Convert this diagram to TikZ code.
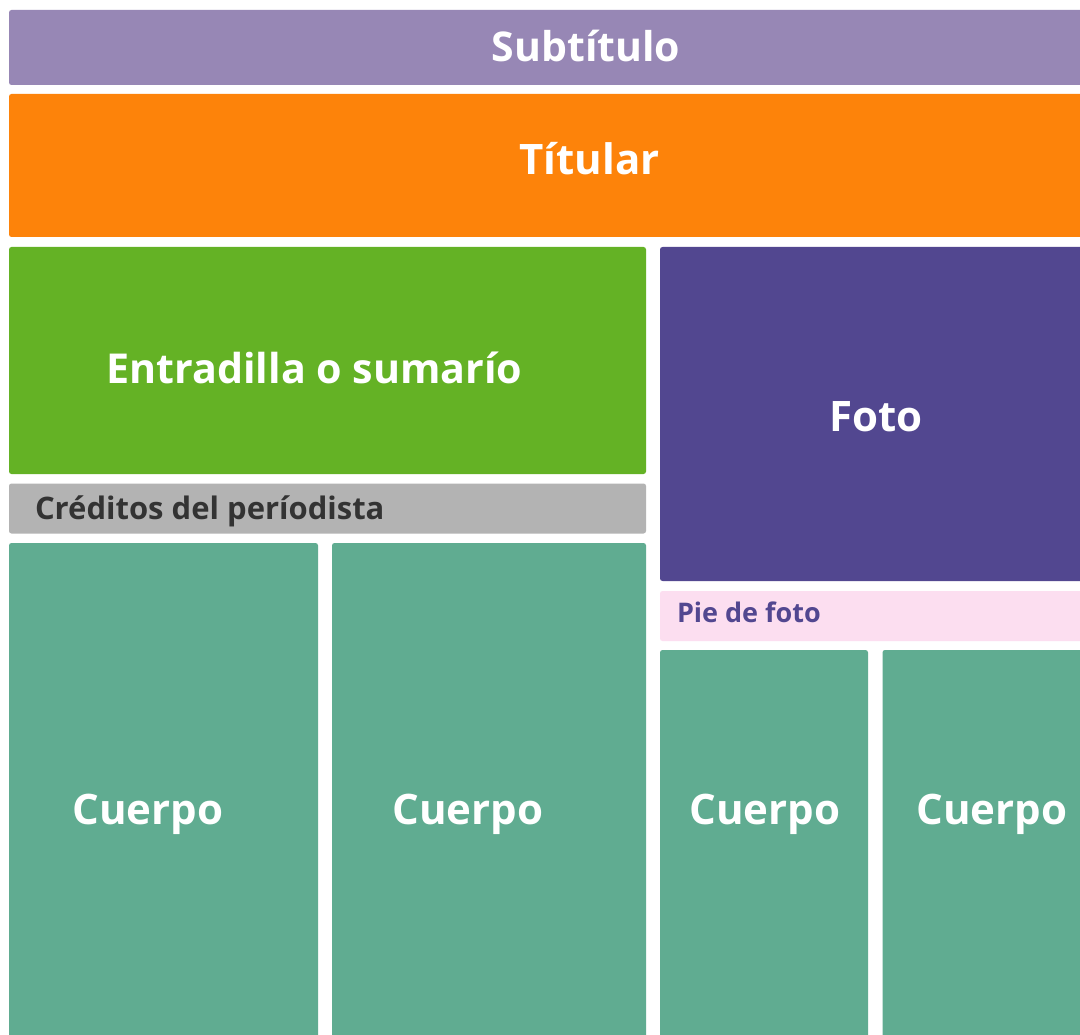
\documentclass[tikz,border=0pt]{standalone}
\usepackage{fontspec}
\setmainfont{Open Sans}
\definecolor{csub}{HTML}{9787B5}
\definecolor{ctit}{HTML}{FD830A}
\definecolor{cent}{HTML}{64B225}
\definecolor{cfoto}{HTML}{524790}
\definecolor{ccred}{HTML}{B3B3B3}
\definecolor{cpie}{HTML}{FCDEF0}
\definecolor{ccue}{HTML}{60AC91}
\definecolor{ctxt}{HTML}{333333}
\tikzset{
  panel/.style={inner sep=0pt, outer sep=0pt, rounded corners=2.5pt, anchor=north west},
  lbl/.style={inner sep=0pt, outer sep=0pt, font=\bfseries, text=white, anchor=base},
  big/.style={font=\fontsize{42}{42}\selectfont\bfseries},
}
\begin{document}
\begin{tikzpicture}[x=1pt,y=-1pt]
\useasboundingbox[fill=white] (0,0) rectangle (1080,1035);
% panels
\node[panel, fill=csub, minimum width=1080pt, minimum height=75pt] (sub) at (9,10) {};
\node[panel, fill=ctit, minimum width=1080pt, minimum height=143pt] (tit) at (9,94) {};
\node[panel, fill=cent, minimum width=637pt, minimum height=227pt] (ent) at (9,247) {};
\node[panel, fill=cfoto, minimum width=430pt, minimum height=334pt] (foto) at (660,247) {};
\node[panel, fill=ccred, minimum width=637pt, minimum height=50pt] (cred) at (9,483.5) {};
\node[panel, fill=cpie, minimum width=430pt, minimum height=50pt] (pie) at (660,591) {};
\node[panel, fill=ccue, minimum width=309pt, minimum height=500pt] (c1) at (9,543) {};
\node[panel, fill=ccue, minimum width=314pt, minimum height=500pt] (c2) at (332,543) {};
\node[panel, fill=ccue, minimum width=208pt, minimum height=400pt] (c3) at (660,650) {};
\node[panel, fill=ccue, minimum width=210pt, minimum height=400pt] (c4) at (882.5,650) {};
% labels
\node[lbl, font=\fontsize{41}{41}\selectfont\bfseries] (tsub) at (586,61.5) {Subtítulo};
\node[lbl, big] (ttit) at (589.5,175) {Títular};
\node[lbl, font=\fontsize{41.2}{41.2}\selectfont\bfseries] (tent) at (314.5,383) {Entradilla o sumarío};
\node[lbl, big] (tfoto) at (876,431) {Foto};
\node[lbl, font=\fontsize{31}{31}\selectfont\bfseries, text=ctxt, anchor=base west] (tcred) at (35,519) {Créditos del períodista};
\node[lbl, font=\fontsize{27}{27}\selectfont\bfseries, text=cfoto, anchor=base west] (tpie) at (677,622.5) {Pie de foto};
\node[lbl, big] (tc1) at (148,824) {Cuerpo};
\node[lbl, big] (tc2) at (468,824) {Cuerpo};
\node[lbl, big] (tc3) at (765,824) {Cuerpo};
\node[lbl, big] (tc4) at (992,824) {Cuerpo};
\end{tikzpicture}
\end{document}
